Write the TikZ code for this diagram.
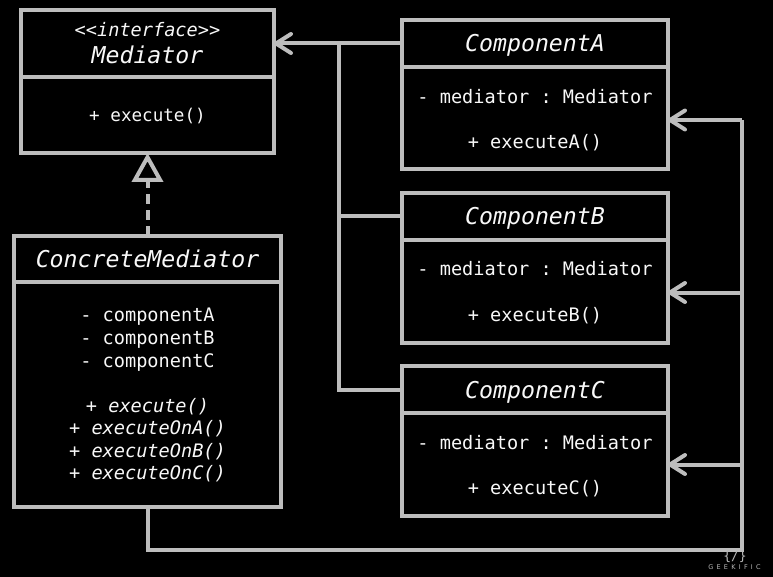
\documentclass[tikz,border=0pt]{standalone}
\usepackage{fontspec}
\setmonofont{DejaVu Sans Mono}
\newfontfamily\wmfont[LetterSpace=50]{DejaVu Sans}
\usetikzlibrary{arrows.meta}
\definecolor{linegray}{HTML}{BDBDBD}
\definecolor{textwhite}{HTML}{F8F8F8}
\definecolor{markgray}{HTML}{B8B8B8}
\tikzset{
  part/.style={draw=linegray,line width=4pt,fill=black,rectangle,inner sep=0pt,outer sep=0pt},
  lbl/.style={text=textwhite,anchor=base,inner sep=0pt,font=\ttfamily\fontsize{18.6}{20}\selectfont},
  lblit/.style={lbl,font=\ttfamily\itshape\fontsize{18.6}{20}\selectfont},
  title/.style={lbl,font=\ttfamily\itshape\fontsize{23.2}{25}\selectfont},
  conn/.style={draw=linegray,line width=4pt},
  assoc/.style={conn,-{Straight Barb[length=15pt,width=19pt,line width=4pt,round]}},
  realize/.style={conn,dash pattern=on 10pt off 6pt,-{Triangle[open,length=29pt,width=31pt,line width=4pt,fill=black]}},
  wmark/.style={text=markgray,inner sep=0pt},
}
\begin{document}
\begin{tikzpicture}[x=1pt,y=-1pt]
\useasboundingbox[fill=black] (0,0) rectangle (773,577);

% Mediator
\node[part,minimum width=253pt,minimum height=67pt] (mT) at (147.5,43.5) {};
\node[part,minimum width=253pt,minimum height=76pt] (mB) at (147.5,115) {};
% ConcreteMediator
\node[part,minimum width=267pt,minimum height=46pt] (cT) at (147.5,259) {};
\node[part,minimum width=267pt,minimum height=225pt] (cB) at (147.5,394.5) {};
% Components
\node[part,minimum width=266pt,minimum height=47pt] (aT) at (535,43.5) {};
\node[part,minimum width=266pt,minimum height=102pt] (aB) at (535,118) {};
\node[part,minimum width=266pt,minimum height=47pt] (bT) at (535,216.5) {};
\node[part,minimum width=266pt,minimum height=103pt] (bB) at (535,291.5) {};
\node[part,minimum width=266pt,minimum height=47pt] (dT) at (535,389.5) {};
\node[part,minimum width=266pt,minimum height=103pt] (dB) at (535,464.5) {};

% Coordinates for junctions
\coordinate (jTop) at (339,43.5);
\coordinate (jMid) at (339,216.5);
\coordinate (jLow) at (339,389.5);
\coordinate (rA) at (742,120);
\coordinate (rB) at (742,292.5);
\coordinate (rC) at (742,464.5);
\coordinate (rBot) at (742,550);
\coordinate (lBot) at (147.5,550);
\coordinate (aIn) at (aB.east |- rA);
\coordinate (bIn) at (bB.east |- rB);

% Connectors
\draw[realize] (cT.north) -- (mB.south);
\draw[assoc] (aT.west) -- (mT.east);
\draw[conn] (jTop) -- (jLow) -- (dT.west);
\draw[conn] (jMid) -- (bT.west);
\draw[conn,line join=miter] (cB.south) -- (lBot) -- (rBot) -- (rA);
\draw[assoc] (rA) -- (aIn);
\draw[assoc] (rB) -- (bIn);
\draw[assoc] (rC) -- (dB.east);

% Mediator text
\node[lblit] (t1) at (147.5,37) {<<interface>>};
\node[title] (t2) at (147.5,64) {Mediator};
\node[lbl,font=\ttfamily\fontsize{17.6}{20}\selectfont] (t3) at (147.5,122) {+ execute()};
% ConcreteMediator text
\node[title] (t4) at (147.5,267) {ConcreteMediator};
\node[lbl] (t5) at (147.5,321.5) {- componentA};
\node[lbl] (t6) at (147.5,344.5) {- componentB};
\node[lbl] (t7) at (147.5,367.5) {- componentC};
\node[lblit] (t8) at (147.5,412) {+ execute()};
\node[lblit] (t9) at (147.5,434) {+ executeOnA()};
\node[lblit] (t10) at (147.5,457) {+ executeOnB()};
\node[lblit] (t11) at (147.5,479) {+ executeOnC()};
% Component text
\node[title] (t12) at (535,52) {ComponentA};
\node[lbl] (t13) at (535,104) {- mediator : Mediator};
\node[lbl] (t14) at (535,149) {+ executeA()};
\node[title] (t15) at (535,225) {ComponentB};
\node[lbl] (t16) at (535,276) {- mediator : Mediator};
\node[lbl] (t17) at (535,321) {+ executeB()};
\node[title] (t18) at (535,398) {ComponentC};
\node[lbl] (t19) at (535,449) {- mediator : Mediator};
\node[lbl] (t20) at (535,494) {+ executeC()};
% Watermark
\node[wmark,font=\ttfamily\fontsize{13}{13}\selectfont] (wm1) at (735,557) {\{/\}};
\node[wmark,font=\wmfont\fontsize{6.5}{6.5}\selectfont] (wm2) at (734.5,567) {GEEKIFIC};
\end{tikzpicture}
\end{document}
